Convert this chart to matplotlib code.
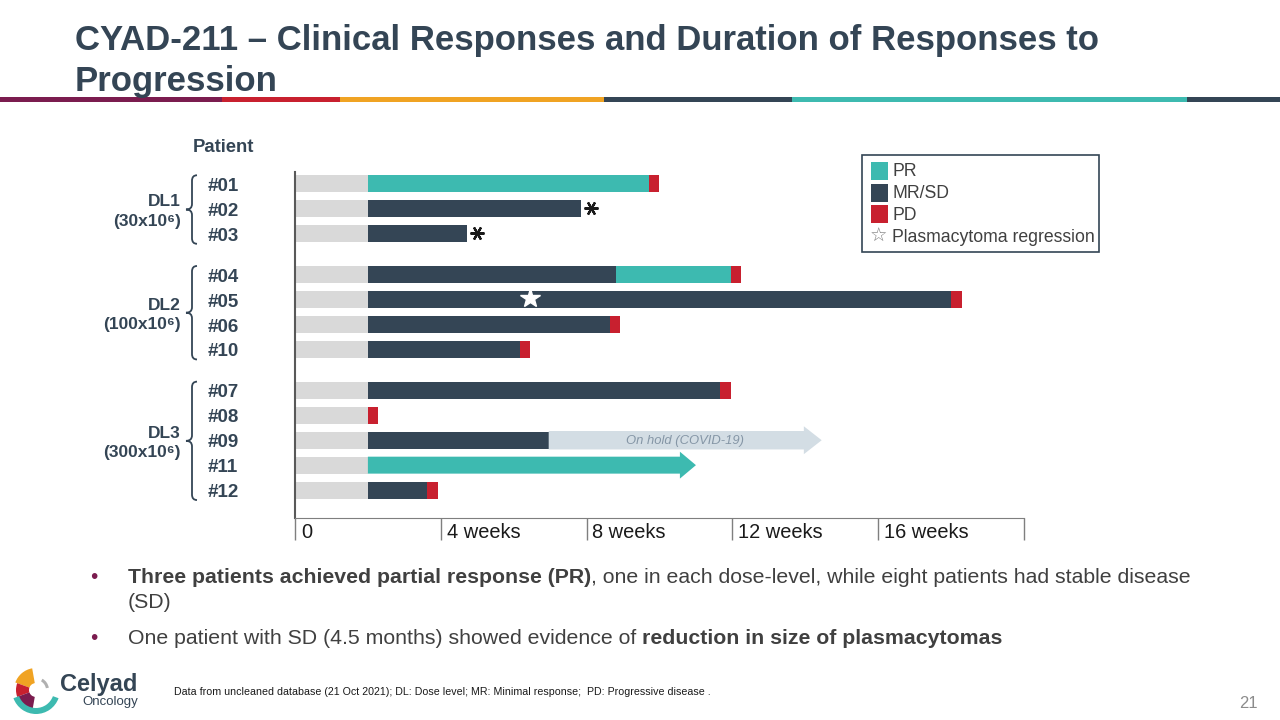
import numpy as np
import matplotlib.pyplot as plt
from matplotlib.patches import Rectangle, FancyArrow, Wedge, Circle, PathPatch
from matplotlib.path import Path
from matplotlib.transforms import blended_transform_factory

plt.rcParams['font.family'] = ['Liberation Sans', 'DejaVu Sans']

#%% data (durations in weeks)
patients = ['#01', '#02', '#03', '#04', '#05', '#06', '#10', '#07', '#08', '#09', '#11', '#12']
dose_levels = ['DL1', 'DL2', 'DL3']
dose_labels = ['(30x10⁶)', '(100x10⁶)', '(300x10⁶)']
group_sizes = [3, 4, 5]
pre_weeks = [2.0, 2.0, 2.0, 2.0, 2.0, 2.0, 2.0, 2.0, 2.0, 2.0, 2.0, 2.0]
sd_weeks = [0, 5.84, 2.71, 6.82, 16.0, 6.63, 4.16, 9.67, 0, 4.96, 0, 1.62]
pr_weeks = [7.70, 0, 0, 3.13, 0, 0, 0, 0, 0, 0, 9.0, 0]
pd_weeks = [0.28, 0, 0, 0.28, 0.3, 0.28, 0.28, 0.3, 0.28, 0, 0, 0.3]
ongoing = ['#11']
on_hold_end = {'#09': 14.45}
asterisk = ['#02', '#03']
star_patient = '#05'
star_week = 6.44
week_ticks = [0, 4, 8, 12, 16]
week_labels = ['0', '4 weeks', '8 weeks', '12 weeks', '16 weeks']
status_labels = ['PR', 'MR/SD', 'PD']

#%% colours
c_pr = '#3dbab0'
c_sd = '#344555'
c_pd = '#c8202f'
c_pre = '#d9d9d9'
c_hold = '#d3dde4'
c_text = '#344555'
status_colors = [c_pr, c_sd, c_pd]

fig = plt.figure(figsize=(12.8, 7.2), dpi=100)

# slide canvas in pixel units
sl = fig.add_axes([0, 0, 1, 1])
sl.set_xlim(0, 1280)
sl.set_ylim(720, 0)
sl.axis('off')

# title
sl.text(75, 50, 'CYAD-211 – Clinical Responses and Duration of Responses to',
        fontsize=25, fontweight='bold', color=c_text, va='baseline')
sl.text(75, 91, 'Progression', fontsize=25, fontweight='bold', color=c_text, va='baseline')

# coloured stripe
stripe = [(0, 222, '#7b1c4f'), (222, 340, '#c8202f'), (340, 604, '#f0a323'),
          (604, 792, '#344555'), (792, 1187, '#3dbab0'), (1187, 1280, '#344555')]
for x0, x1, c in stripe:
    sl.add_patch(Rectangle((x0, 97), x1 - x0, 5, color=c, lw=0))

#%% swimmer chart
ax = fig.add_axes([295/1280, (720-518)/720, (1024-295)/1280, (518-172)/720])
ax.set_facecolor('none')

pos = []
k = 0
for g, n in enumerate(group_sizes):
    for i in range(n):
        pos.append(k + g*0.64)
        k += 1
pos = np.array(pos)
h = 0.68

for i, p in enumerate(patients):
    y = pos[i]
    left = 0
    ax.barh(y, pre_weeks[i], left=left, height=h, color=c_pre)
    left += pre_weeks[i]
    if sd_weeks[i] > 0:
        ax.barh(y, sd_weeks[i], left=left, height=h, color=c_sd)
        left += sd_weeks[i]
    if pr_weeks[i] > 0:
        if p in ongoing:
            ax.add_patch(FancyArrow(left, y, pr_weeks[i], 0, width=h, head_width=1.08,
                                    head_length=0.44, length_includes_head=True,
                                    color=c_pr, lw=0))
        else:
            ax.barh(y, pr_weeks[i], left=left, height=h, color=c_pr)
        left += pr_weeks[i]
    if pd_weeks[i] > 0:
        ax.barh(y, pd_weeks[i], left=left, height=h, color=c_pd)
        left += pd_weeks[i]
    if p in on_hold_end:
        ax.add_patch(FancyArrow(left, y, on_hold_end[p] - left, 0, width=0.74,
                                head_width=1.12, head_length=0.49,
                                length_includes_head=True, color=c_hold, lw=0))
        ax.text((left + on_hold_end[p]) / 2, y + 0.05, 'On hold (COVID-19)', style='italic',
                fontsize=9.4, color='#8596a6', ha='center', va='center')
    if p in asterisk:
        ax.plot(left + 0.27, y - 0.05, marker=(6, 2, 90), ms=10, mew=1.6, color='#1a1a1a')
    if p == star_patient:
        ax.plot(star_week, y - 0.05, marker='*', ms=15, color='white', mec='white')

ax.set_xlim(0, 20)
ax.set_ylim(pos[-1] + 1.12, -0.48)
ax.set_yticks([])
ax.set_xticks(week_ticks + [20])
ax.set_xticklabels([])
ax.tick_params(axis='x', direction='out', length=15.8, width=1, color='#7f7f7f')
for s in ['top', 'right']:
    ax.spines[s].set_visible(False)
ax.spines['left'].set_color('#595959')
ax.spines['left'].set_linewidth(1.5)
ax.spines['bottom'].set_color('#7f7f7f')

tx = blended_transform_factory(ax.transData, fig.transFigure)
for t, lab in zip(week_ticks, week_labels):
    ax.text(t + 0.16, (720 - 532) / 720, lab, transform=tx, fontsize=14.4,
            color='#1a1a1a', va='center', ha='left')

# patient labels, dose levels and braces
ty = blended_transform_factory(fig.transFigure, ax.transData)
for i, p in enumerate(patients):
    ax.text(208/1280, pos[i] + 0.1, p, transform=ty, fontsize=13.5, fontweight='bold',
            color=c_text, va='center', ha='left', clip_on=False)


def brace(y0, y1, x=192):
    ym = (y0 + y1) / 2
    r = 0.22
    X = lambda v: v / 1280
    verts = [(X(x + 5), y0), (X(x), y0), (X(x), y0 + r), (X(x), ym - r),
             (X(x), ym), (X(x - 6), ym), (X(x), ym), (X(x), ym + r),
             (X(x), y1 - r), (X(x), y1), (X(x + 5), y1)]
    codes = [Path.MOVETO, Path.CURVE3, Path.CURVE3, Path.LINETO,
             Path.CURVE3, Path.CURVE3, Path.CURVE3, Path.CURVE3,
             Path.LINETO, Path.CURVE3, Path.CURVE3]
    ax.add_patch(PathPatch(Path(verts, codes), transform=ty, fill=False,
                           edgecolor=c_text, lw=1.3, clip_on=False))


start = 0
for g, n in enumerate(group_sizes):
    y0 = pos[start] - 0.35
    y1 = pos[start + n - 1] + 0.4
    brace(y0, y1)
    ax.text(181/1280, (y0 + y1) / 2 + 0.08, dose_levels[g] + '\n' + dose_labels[g],
            transform=ty, fontsize=12.5, fontweight='bold', color=c_text, ha='right',
            va='center', multialignment='right', linespacing=1.35, clip_on=False)
    start += n

sl.text(223, 147, 'Patient', fontsize=13.3, fontweight='bold', color=c_text,
        ha='center', va='center')

# legend
sl.add_patch(Rectangle((862, 155), 237, 97, fill=False, edgecolor=c_text, lw=1.2))
for j, (lab, c) in enumerate(zip(status_labels, status_colors)):
    yc = 171 + j * 21.5
    sl.add_patch(Rectangle((871, yc - 9), 17, 18, color=c, lw=0))
    sl.text(892, yc + 1, lab, fontsize=12.7, color='#404040', va='center')
sl.text(870, 236, '☆', family='DejaVu Sans', fontsize=14, color='#7f7f7f', va='center')
sl.text(892, 237, 'Plasmacytoma regression', fontsize=12.7, color='#404040', va='center')

#%% bullets
body = '#404040'
fs = 15.3
sl.text(90, 583, '•', fontsize=15, color='#7b1c4f', va='baseline')
t1 = sl.text(128, 583, 'Three patients achieved partial response (PR)', fontsize=fs,
             fontweight='bold', color=body, va='baseline')
sl.annotate(', one in each dose-level, while eight patients had stable disease',
            xy=(1, 0), xycoords=t1, va='bottom', ha='left', fontsize=fs, color=body)
sl.text(128, 608, '(SD)', fontsize=fs, color=body, va='baseline')
sl.text(90, 644, '•', fontsize=15, color='#7b1c4f', va='baseline')
t2 = sl.text(128, 644, 'One patient with SD (4.5 months) showed evidence of ', fontsize=fs,
             color=body, va='baseline')
sl.annotate('reduction in size of plasmacytomas', xy=(1, 0), xycoords=t2, va='bottom',
            ha='left', fontsize=fs, fontweight='bold', color=body)

# footnote and page number
sl.text(174, 692, 'Data from uncleaned database (21 Oct 2021); DL: Dose level; MR: Minimal response;  PD: Progressive disease .',
        fontsize=7.7, color='#1a1a1a', va='center')
sl.text(1248, 704, '21', fontsize=12, color='#8c8c8c', ha='center', va='center')

# logo
cx, cy = 36, 690
sl.add_patch(Wedge((cx, cy), 22, -160, -100, color='#f0a323', lw=0))
sl.add_patch(Wedge((cx, cy), 20, -200, -160, color='#c8202f', lw=0))
sl.add_patch(Wedge((cx, cy), 20, -260, -200, color='#7b1c4f', lw=0))
sl.add_patch(Wedge((cx, cy), 24, -340, -200, width=6, color='#3dbab0', lw=0))
sl.add_patch(Wedge((cx, cy), 13, -60, -10, width=3, color='#b0b0b0', lw=0))
sl.add_patch(Circle((cx, cy), 7, color='white', lw=0))
sl.text(60, 684, 'Celyad', fontsize=17, fontweight='bold', color=c_text, va='center')
sl.text(82, 702, 'Oncology', fontsize=9.5, color=c_text, va='center')

fig.savefig('out.png', dpi=100)
